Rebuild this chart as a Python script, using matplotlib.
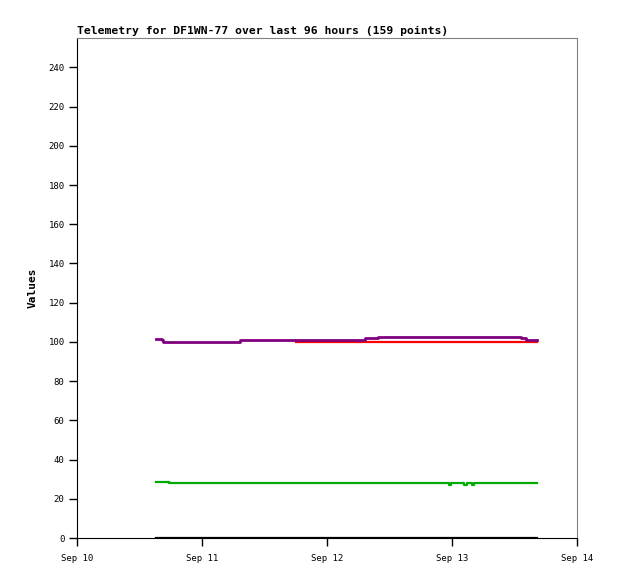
import numpy as np
import matplotlib
matplotlib.use("Agg")
import matplotlib.pyplot as plt
import matplotlib.dates as mdates

start = np.datetime64("2023-09-10T00:00")

# change points (hours after Sep 10 00:00) and values, drawn as steps
purple_h = [15.2, 16.3, 16.6, 31.2, 55.3, 57.8, 85.2, 86.2, 88.3]
purple_v = [101.3, 100.8, 100.2, 101.2, 101.8, 102.3, 101.8, 101.2, 101.2]

red_h = [42.0, 88.3]
red_v = [100.1, 100.1]

green_h = [15.2, 17.7, 71.4, 71.9, 74.3, 74.8, 75.8, 76.3, 88.3]
green_v = [28.8, 27.9, 27.2, 27.9, 27.2, 27.9, 27.2, 27.9, 27.9]

black_h = [15.2, 88.3]
black_v = [0.2, 0.2]


def to_dates(hours):
    return start + (np.array(hours) * 60).astype("timedelta64[m]")


fig = plt.figure(figsize=(6.18, 5.79), dpi=100)
ax = fig.add_axes([77 / 618, 41 / 579, 500 / 618, 500 / 579])

ax.plot(to_dates(black_h), black_v, color="black", lw=1.6, drawstyle="steps-post")
ax.plot(to_dates(green_h), green_v, color="#00aa00", lw=1.6, drawstyle="steps-post")
ax.plot(to_dates(red_h), red_v, color="#ff0000", lw=1.6, drawstyle="steps-post")
ax.plot(to_dates(purple_h), purple_v, color="#800080", lw=2.0, drawstyle="steps-post")

ax.set_xlim(start, start + np.timedelta64(4, "D"))
ax.set_ylim(0, 255)
ax.set_yticks(range(0, 241, 20))
ax.xaxis.set_major_locator(mdates.DayLocator())
ax.xaxis.set_major_formatter(mdates.DateFormatter("%b %d"))

for s in ["top", "right"]:
    ax.spines[s].set_color("#808080")
for s in ["left", "bottom"]:
    ax.spines[s].set_color("black")
ax.tick_params(direction="out", length=5.5, width=1, labelsize=6.5)
ax.tick_params(axis="x", pad=6)
for lab in ax.get_xticklabels() + ax.get_yticklabels():
    lab.set_family("DejaVu Sans Mono")

ax.set_title("Telemetry for DF1WN-77 over last 96 hours (159 points)",
             loc="left", fontsize=8.2, fontweight="bold",
             family="DejaVu Sans Mono", pad=3)
ax.set_ylabel("Values", fontsize=8, fontweight="bold",
              family="DejaVu Sans Mono", labelpad=8)

fig.savefig("out.png", dpi=100)
